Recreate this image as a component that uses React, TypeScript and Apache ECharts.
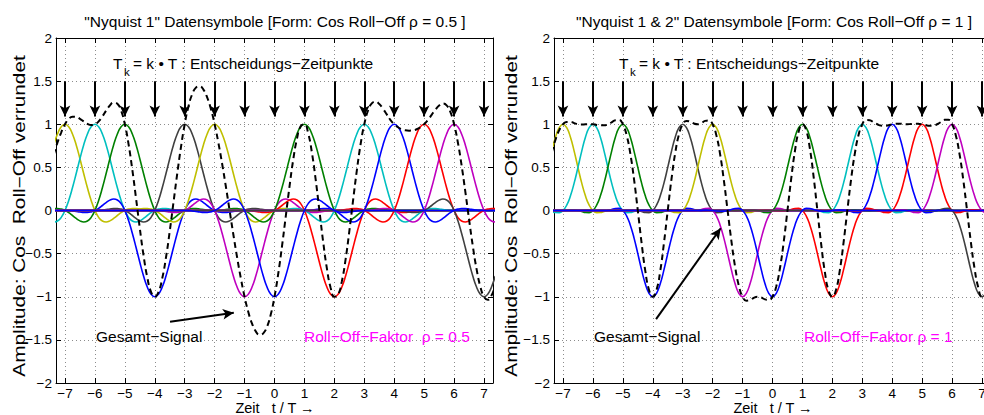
import React, { useEffect, useRef } from "react";
import * as echarts from "echarts";

// ---- data ----
const symbolTimes = [-7, -6, -5, -4, -3, -2, -1, 0, 1, 2, 3, 4, 5, 6, 7];
const symbolValues = [1, 1, 1, -1, 1, 1, -1, -1, 1, -1, 1, 1, 1, 1, -1];
const symbolColors = [
  "#BFBF00", "#00BFBF", "#008000", "#0000FF", "#404040", "#BFBF00", "#BF00BF",
  "#0000FF", "#008000", "#FF0000", "#00BFBF", "#0000FF", "#FF0000", "#BF00BF", "#404040",
];
// one-sided pulse shape samples (t = 0, 0.125, 0.25, ... T)
const pulseStep = 0.125;
const pulseHalfRho05 = [
  1, 0.971, 0.887, 0.759, 0.6, 0.429, 0.263, 0.116, 0,
  -0.08, -0.122, -0.133, -0.12, -0.092, -0.058, -0.025, 0,
  0.016, 0.023, 0.022, 0.017, 0.011, 0.005, 0.001, 0,
];
const pulseHalfRho1 = [
  1, 0.96, 0.849, 0.686, 0.5, 0.32, 0.17, 0.062, 0,
  -0.025, -0.024, -0.012, 0, 0.007, 0.008, 0.005, 0,
  -0.003, -0.004, -0.002, 0, 0, 0, 0, 0,
];
const xTickValues = [-7, -6, -5, -4, -3, -2, -1, 0, 1, 2, 3, 4, 5, 6, 7];
const yTickValues = [-2, -1.5, -1, -0.5, 0, 0.5, 1, 1.5, 2];
const arrowTop = 1.5;
const arrowTipLevel = 1.09;
const titles = [
  "\"Nyquist 1\" Datensymbole [Form: Cos Roll\u2212Off \u03c1 = 0.5 ]",
  "\"Nyquist 1 & 2\" Datensymbole [Form: Cos Roll\u2212Off \u03c1 = 1 ]",
];
const rollOffLabels = ["Roll\u2212Off\u2212Faktor  \u03c1 = 0.5", "Roll\u2212Off\u2212Faktor \u03c1 = 1"];
const gesamtArrowStart = [[-3.49, -1.29], [-3.89, -1.26]];
const gesamtArrowEnd = [[-1.36, -1.185], [-1.73, -0.206]];

const FONT = "'Liberation Sans', Arial, Helvetica, sans-serif";
const X_MIN = -7.3;
const X_MAX = 7.3;

// x sampling grid (sample spacing of the pulse shapes)
const sampleIdx: number[] = [];
for (let i = -59; i <= 59; i++) sampleIdx.push(i);

function pulseData(half: number[], k: number, a: number) {
  const kIdx = Math.round(k / pulseStep);
  return sampleIdx.map((i) => {
    const j = Math.abs(i - kIdx);
    return [i * pulseStep, a * (j < half.length ? half[j] : 0)];
  });
}

function sumData(half: number[]) {
  return sampleIdx.map((i) => {
    let s = 0;
    symbolTimes.forEach((k, n) => {
      const j = Math.abs(i - Math.round(k / pulseStep));
      s += symbolValues[n] * (j < half.length ? half[j] : 0);
    });
    return [i * pulseStep, s];
  });
}

const fmtNum = (v: number) => (v < 0 ? "\u2212" + String(-v) : String(v));

function buildOption() {
  const grids = [
    { left: 56, top: 38, width: 437, height: 345, containLabel: false, outerBoundsMode: "none" },
    { left: 554, top: 38, width: 437, height: 345, containLabel: false, outerBoundsMode: "none" },
  ];
  const xAxes: any[] = [];
  const yAxes: any[] = [];
  [0, 1].forEach((g) => {
    xAxes.push({
      gridIndex: g, type: "value", min: X_MIN, max: X_MAX, splitNumber: 14, position: "bottom",
      axisLine: { onZero: false, lineStyle: { color: "#000", width: 1 } },
      axisTick: { inside: true, length: 5, lineStyle: { color: "#000" } },
      axisLabel: {
        color: "#000", fontSize: 13.5, fontFamily: FONT, margin: 3,
        showMinLabel: false, showMaxLabel: false,
        formatter: (v: number) => (xTickValues.includes(v) ? fmtNum(v) : ""),
      },
      splitLine: { show: true, lineStyle: { color: "#8c8c8c", type: [1, 3], width: 1 } },
    });
    xAxes.push({
      gridIndex: g, type: "value", min: X_MIN, max: X_MAX, splitNumber: 14, position: "top",
      axisLine: { onZero: false, lineStyle: { color: "#000", width: 1 } },
      axisTick: { inside: true, length: 5, lineStyle: { color: "#000" } },
      axisLabel: { show: false }, splitLine: { show: false },
    });
    yAxes.push({
      gridIndex: g, type: "value", min: -2, max: 2, interval: 0.5, position: "left",
      axisLine: { onZero: false, show: true, lineStyle: { color: "#000", width: 1 } },
      axisTick: { show: true, inside: true, length: 5, lineStyle: { color: "#000" } },
      axisLabel: {
        color: "#000", fontSize: 13.5, fontFamily: FONT, margin: 4,
        formatter: (v: number) => (yTickValues.includes(v) ? fmtNum(v) : ""),
      },
      splitLine: { show: true, lineStyle: { color: "#8c8c8c", type: [1, 3], width: 1 } },
    });
    yAxes.push({
      gridIndex: g, type: "value", min: -2, max: 2, interval: 0.5, position: "right",
      axisLine: { onZero: false, show: true, lineStyle: { color: "#000", width: 1 } },
      axisTick: { show: true, inside: true, length: 5, lineStyle: { color: "#000" } },
      axisLabel: { show: false }, splitLine: { show: false },
    });
  });

  const series: any[] = [];
  const halves = [pulseHalfRho05, pulseHalfRho1];
  const order = symbolTimes.map((_, n) => n).filter((n) => symbolTimes[n] !== 0);
  order.push(symbolTimes.indexOf(0));
  [0, 1].forEach((g) => {
    order.forEach((n) => {
      series.push({
        type: "line", xAxisIndex: g * 2, yAxisIndex: g * 2, smooth: true, showSymbol: false,
        symbol: "none", silent: true,
        lineStyle: { color: symbolColors[n], width: 1.6 },
        data: pulseData(halves[g], symbolTimes[n], symbolValues[n]),
      });
    });
    const arrows: any[] = symbolTimes.map((k) => [
      { coord: [k, arrowTop] },
      { coord: [k, arrowTipLevel] },
    ]);
    arrows.push([{ coord: gesamtArrowStart[g] }, { coord: gesamtArrowEnd[g] }]);
    series.push({
      type: "line", xAxisIndex: g * 2, yAxisIndex: g * 2, smooth: true, showSymbol: false,
      symbol: "none", silent: true,
      lineStyle: { color: "#000", width: 2, type: [6, 4] },
      data: sumData(halves[g]),
      markLine: {
        silent: true, symbol: ["none", "arrow"], symbolSize: [8, 11],
        label: { show: false }, animation: false,
        lineStyle: { color: "#000", width: 2, type: "solid" },
        emphasis: { disabled: true },
        data: arrows,
      },
    });
  });

  const txt = (x: number, y: number, text: string, opts: any = {}) => ({
    type: "text", x, y, silent: true, z: 100,
    rotation: opts.rotation || 0, scaleX: opts.scaleX || 1,
    style: {
      text, fill: opts.fill || "#000", fontSize: opts.fontSize || 15.5, fontFamily: FONT,
      align: opts.align || "left", textAlign: opts.align || "left",
      verticalAlign: "middle", textVerticalAlign: "middle",
    },
  });

  const graphic: any[] = [
    txt(275, 21, titles[0], { align: "center" }),
    txt(774, 21, titles[1], { align: "center" }),
    // T_k annotations
    txt(113, 63, "T"), txt(124, 72, "k", { fontSize: 11.5 }), txt(133, 63, "= k \u2022 T : Entscheidungs\u2212Zeitpunkte"),
    txt(619, 63, "T"), txt(630, 72, "k", { fontSize: 11.5 }), txt(639, 63, "= k \u2022 T : Entscheidungs\u2212Zeitpunkte"),
    txt(96, 336, "Gesamt\u2212Signal"),
    txt(594, 336, "Gesamt\u2212Signal"),
    txt(304, 336, rollOffLabels[0], { fill: "#FF00FF" }),
    txt(804, 336, rollOffLabels[1], { fill: "#FF00FF" }),
    txt(19, 216, "Amplitude: Cos  Roll\u2212Off verrundet", { align: "center", rotation: Math.PI / 2, fontSize: 16, scaleX: 1.3 }),
    txt(511, 216, "Amplitude: Cos  Roll\u2212Off verrundet", { align: "center", rotation: Math.PI / 2, fontSize: 16, scaleX: 1.3 }),
    txt(275, 408, "Zeit   t / T \u2192", { align: "center", fontSize: 14.5 }),
    txt(773, 408, "Zeit   t / T \u2192", { align: "center", fontSize: 14.5 }),
  ];

  return {
    animation: false,
    backgroundColor: "#fff",
    grid: grids,
    xAxis: xAxes,
    yAxis: yAxes,
    series,
    graphic,
  };
}

export default function App() {
  const ref = useRef<HTMLDivElement>(null);
  useEffect(() => {
    if (!ref.current) return;
    const chart = echarts.init(ref.current, undefined, { renderer: "svg" });
    chart.setOption(buildOption() as any);
    return () => chart.dispose();
  }, []);
  return (
    <div
      ref={ref}
      style={{ position: "fixed", left: 0, top: 0, width: 984, height: 415, background: "#fff" }}
    />
  );
}
